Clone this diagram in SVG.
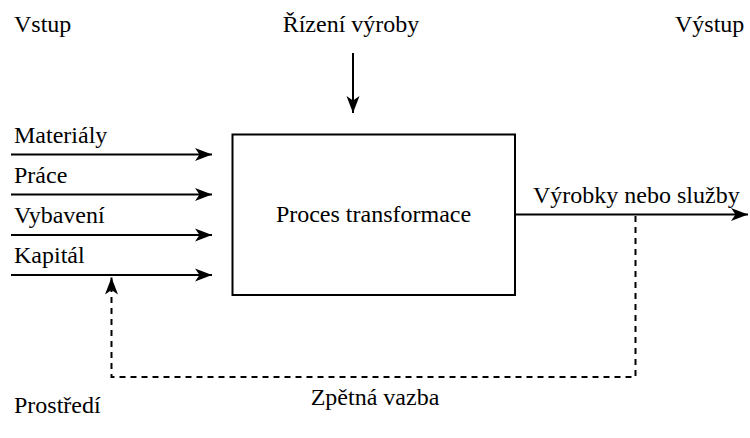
<svg xmlns="http://www.w3.org/2000/svg" width="750" height="438" viewBox="0 0 750 438">
<style>
text{font-family:"Liberation Serif","Times New Roman",serif;font-size:24px;fill:#000}
.ln{fill:none;stroke:#000;stroke-width:2}
.dash{fill:none;stroke:#000;stroke-width:2;stroke-dasharray:6 5}
</style>
<defs>
<marker id="arr" markerUnits="userSpaceOnUse" markerWidth="18" markerHeight="14" refX="17" refY="7" orient="auto">
<path d="M0,0.5 L17,7 L0,13.5 L4.5,7 Z" fill="#000"/>
</marker>
</defs>
<rect width="750" height="438" fill="#fff"/>
<g id="labels">
<text x="14" y="32">Vstup</text>
<text x="351" y="32" text-anchor="middle">Řízení výroby</text>
<text x="675" y="32">Výstup</text>
<text x="14" y="413">Prostředí</text>
</g>
<g id="process">
<rect x="232.5" y="134.5" width="282.5" height="160.5" class="ln"/>
<text x="373.5" y="222" text-anchor="middle">Proces transformace</text>
</g>
<g id="connectors">
<line x1="353" y1="53" x2="353" y2="113" class="ln" marker-end="url(#arr)"/>
<line x1="11" y1="154.5" x2="212" y2="154.5" class="ln" marker-end="url(#arr)"/>
<line x1="11" y1="194.5" x2="212" y2="194.5" class="ln" marker-end="url(#arr)"/>
<line x1="11" y1="235" x2="212" y2="235" class="ln" marker-end="url(#arr)"/>
<line x1="11" y1="275" x2="212" y2="275" class="ln" marker-end="url(#arr)"/>
<line x1="515" y1="214.5" x2="748" y2="214.5" class="ln" marker-end="url(#arr)"/>
<path d="M635.5,216 V377 H111.5 V277.5" class="dash" marker-end="url(#arr)"/>
</g>
<g id="connector-labels">
<text x="14" y="142.5">Materiály</text>
<text x="14" y="182.5">Práce</text>
<text x="14" y="223">Vybavení</text>
<text x="14" y="263">Kapitál</text>
<text x="533" y="203">Výrobky nebo služby</text>
<text x="375" y="405" text-anchor="middle">Zpětná vazba</text>
</g>
</svg>
